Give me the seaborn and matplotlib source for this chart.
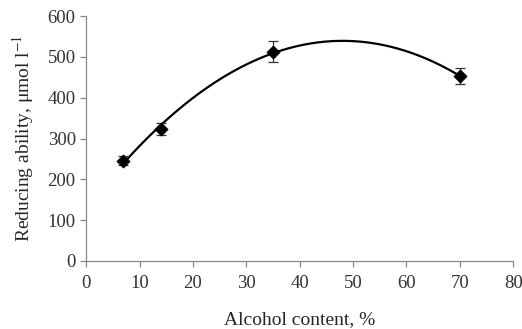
import numpy as np
import pandas as pd
import matplotlib
matplotlib.use("Agg")
import matplotlib.pyplot as plt
import seaborn as sns

# ==================== 数据 ====================
alcohol = [7, 14, 35, 70]
reducing = [246, 323, 513, 453]
err = [10, 15, 25, 20]

df = pd.DataFrame({"alcohol": alcohol, "reducing": reducing, "err": err})

# ==================== 样式 ====================
sns.set_style("ticks")
plt.rcParams['font.family'] = ['Liberation Serif', 'DejaVu Serif']
plt.rcParams['mathtext.fontset'] = 'stix'

fig = plt.figure(figsize=(5.22, 3.29), dpi=100)
ax = fig.add_axes([0.165, 0.207, 0.818, 0.744])

# 趋势线（二次多项式）
sns.regplot(data=df, x="alcohol", y="reducing", order=2, ci=None, scatter=False,
            truncate=True, color="black", line_kws={"lw": 1.6}, ax=ax)

# 误差棒
ax.errorbar(df["alcohol"], df["reducing"], yerr=df["err"], fmt="none",
            ecolor="#333333", elinewidth=0.9, capsize=3.5, capthick=0.9)

# 数据点
sns.scatterplot(data=df, x="alcohol", y="reducing", marker="D", s=45,
                color="black", edgecolor="black", ax=ax, zorder=5)

ax.set_xlim(0, 80)
ax.set_ylim(0, 600)
ax.set_xticks(range(0, 81, 10))
ax.set_yticks(range(0, 601, 100))
ax.set_xlabel("Alcohol content, %", fontsize=14, labelpad=14)
ax.set_ylabel("Reducing ability, μmol l$^{-1}$", fontsize=14, labelpad=8)
ax.tick_params(labelsize=13.5, length=4, color="#888888", width=0.9, colors="#333333")
ax.tick_params(axis="x", pad=6)

for s in ["top", "right"]:
    ax.spines[s].set_visible(False)
for s in ["left", "bottom"]:
    ax.spines[s].set_color("#888888")
    ax.spines[s].set_linewidth(0.9)

plt.savefig("out.png", dpi=100)
